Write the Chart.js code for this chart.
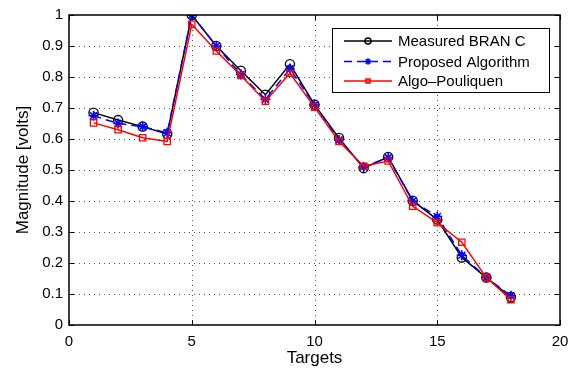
<!DOCTYPE html>
<html>
<head>
<meta charset="utf-8">
<script src="https://cdn.jsdelivr.net/npm/chart.js@4/dist/chart.umd.min.js"></script>
<style>
  html, body { margin: 0; padding: 0; background: #fff; }
  #wrap { width: 577px; height: 369px; }
</style>
</head>
<body>
<div id="wrap"><canvas id="grafica"></canvas></div>
<script>
// datos
const targets   = [1, 2, 3, 4, 5, 6, 7, 8, 9, 10, 11, 12, 13, 14, 15, 16, 17, 18];
const measured  = [0.685, 0.661, 0.640, 0.616, 1.000, 0.900, 0.820, 0.743, 0.841, 0.711, 0.603, 0.506, 0.542, 0.401, 0.340, 0.218, 0.153, 0.090];
const proposed  = [0.675, 0.650, 0.640, 0.620, 1.000, 0.900, 0.808, 0.728, 0.826, 0.710, 0.597, 0.510, 0.540, 0.400, 0.350, 0.225, 0.153, 0.094];
const pouliquen = [0.652, 0.630, 0.604, 0.592, 0.970, 0.884, 0.805, 0.722, 0.812, 0.703, 0.592, 0.512, 0.529, 0.383, 0.330, 0.267, 0.153, 0.082];
const seriesNames = ['Measured BRAN C', 'Proposed Algorithm', 'Algo\u2013Pouliquen'];
const xTicks = [0, 5, 10, 15, 20];
const yTicks = [0, 0.1, 0.2, 0.3, 0.4, 0.5, 0.6, 0.7, 0.8, 0.9, 1];

const FONT = 'Liberation Sans, Arial, Helvetica, sans-serif';

function puntos(ys) {
  return targets.map((t, i) => ({ x: t, y: ys[i] }));
}

// rejilla punteada, caja y marcas hacia dentro estilo matlab
const cajaPlugin = {
  id: 'caja',
  beforeDatasetsDraw(chart) {
    const ctx = chart.ctx, a = chart.chartArea;
    const sx = chart.scales.x, sy = chart.scales.y;
    ctx.save();
    ctx.strokeStyle = '#555';
    ctx.lineWidth = 1;
    ctx.setLineDash([1, 4]);
    xTicks.forEach(v => {
      if (v === xTicks[0] || v === xTicks[xTicks.length - 1]) return;
      const px = Math.round(sx.getPixelForValue(v)) + 0.5;
      ctx.beginPath(); ctx.moveTo(px, a.top); ctx.lineTo(px, a.bottom); ctx.stroke();
    });
    yTicks.forEach(v => {
      if (v === yTicks[0] || v === yTicks[yTicks.length - 1]) return;
      const py = Math.round(sy.getPixelForValue(v)) + 0.5;
      ctx.beginPath(); ctx.moveTo(a.left, py); ctx.lineTo(a.right, py); ctx.stroke();
    });
    ctx.restore();
  },
  afterDatasetsDraw(chart) {
    const ctx = chart.ctx, a = chart.chartArea;
    const sx = chart.scales.x, sy = chart.scales.y;
    const L = 5;
    ctx.save();
    ctx.strokeStyle = '#000';
    ctx.lineWidth = 1.5;
    ctx.setLineDash([]);
    ctx.strokeRect(a.left, a.top, a.right - a.left, a.bottom - a.top);
    ctx.lineWidth = 1;
    ctx.beginPath();
    xTicks.forEach(v => {
      const px = Math.round(sx.getPixelForValue(v)) + 0.5;
      ctx.moveTo(px, a.bottom); ctx.lineTo(px, a.bottom - L);
      ctx.moveTo(px, a.top); ctx.lineTo(px, a.top + L);
    });
    yTicks.forEach(v => {
      const py = Math.round(sy.getPixelForValue(v)) + 0.5;
      ctx.moveTo(a.left, py); ctx.lineTo(a.left + L, py);
      ctx.moveTo(a.right, py); ctx.lineTo(a.right - L, py);
    });
    ctx.stroke();
    ctx.restore();
  }
};

// leyenda dibujada dentro del area, arriba a la derecha
const leyendaPlugin = {
  id: 'leyenda',
  afterDraw(chart) {
    const ctx = chart.ctx;
    const bx = 332.5, by = 28.5, bw = 217, bh = 64;
    ctx.save();
    ctx.fillStyle = '#fff';
    ctx.fillRect(bx, by, bw, bh);
    ctx.strokeStyle = '#000';
    ctx.lineWidth = 1;
    ctx.strokeRect(bx, by, bw, bh);
    const filas = [41, 61.5, 81];
    chart.data.datasets.forEach((ds, i) => {
      const y = filas[i];
      ctx.strokeStyle = ds.borderColor;
      ctx.lineWidth = ds.borderWidth;
      ctx.setLineDash(ds.borderDash || []);
      ctx.beginPath(); ctx.moveTo(344, y); ctx.lineTo(392, y); ctx.stroke();
      ctx.setLineDash([]);
      ctx.fillStyle = ds.pointBackgroundColor;
      Chart.helpers.drawPoint(ctx, {
        pointStyle: ds.pointStyle,
        radius: ds.pointRadius * 0.65,
        rotation: 0,
        borderWidth: 1.2
      }, 368, y);
      ctx.fillStyle = '#000';
      ctx.font = '15px ' + FONT;
      ctx.textBaseline = 'middle';
      ctx.textAlign = 'left';
      ctx.fillText(ds.label, 398, y + 1);
    });
    ctx.restore();
  }
};

const grafica = document.getElementById('grafica');
const chart = new Chart(grafica, {
  type: 'line',
  data: {
    datasets: [
      {
        label: seriesNames[0],
        data: puntos(measured),
        borderColor: '#000',
        borderWidth: 1.5,
        pointStyle: 'circle',
        pointRadius: 4.6,
        pointBorderWidth: 1.3,
        pointBorderColor: '#000',
        pointBackgroundColor: 'rgba(0,0,0,0)',
        order: 3
      },
      {
        label: seriesNames[1],
        data: puntos(proposed),
        borderColor: '#0000ff',
        borderWidth: 1.5,
        borderDash: [8, 5],
        pointStyle: 'star',
        pointRadius: 5,
        pointBorderWidth: 1.6,
        pointBorderColor: '#0000ff',
        pointBackgroundColor: '#0000ff',
        order: 2
      },
      {
        label: seriesNames[2],
        data: puntos(pouliquen),
        borderColor: '#ff0000',
        borderWidth: 1.5,
        pointStyle: 'rect',
        pointRadius: 4.5,
        pointBorderWidth: 1.3,
        pointBorderColor: '#ff0000',
        pointBackgroundColor: 'rgba(0,0,0,0)',
        order: 1
      }
    ]
  },
  options: {
    responsive: true,
    maintainAspectRatio: false,
    animation: false,
    layout: { padding: { top: 13, right: 17, left: 0, bottom: 0 } },
    plugins: {
      legend: { display: false },
      tooltip: { enabled: false }
    },
    scales: {
      x: {
        type: 'linear',
        min: 0,
        max: 20,
        afterBuildTicks: s => { s.ticks = xTicks.map(v => ({ value: v })); },
        afterFit: s => { s.height = 44; },
        grid: { display: false, drawTicks: false },
        border: { display: false },
        ticks: {
          padding: 8,
          color: '#000',
          maxRotation: 0,
          font: { family: FONT, size: 15 }
        },
        title: {
          display: true,
          text: 'Targets',
          color: '#000',
          padding: { top: 0, bottom: 0 },
          font: { family: FONT, size: 17 }
        }
      },
      y: {
        type: 'linear',
        min: 0,
        max: 1,
        afterBuildTicks: s => { s.ticks = yTicks.map(v => ({ value: v })); },
        afterFit: s => { s.width = 69; },
        grid: { display: false, drawTicks: false },
        border: { display: false },
        ticks: {
          padding: 6,
          color: '#000',
          font: { family: FONT, size: 15 },
          callback: v => String(Math.round(v * 10) / 10)
        },
        title: {
          display: true,
          text: 'Magnitude [volts]',
          color: '#000',
          padding: { top: 13, bottom: 0 },
          font: { family: FONT, size: 17 }
        }
      }
    }
  },
  plugins: [cajaPlugin, leyendaPlugin]
});
</script>
</body>
</html>
